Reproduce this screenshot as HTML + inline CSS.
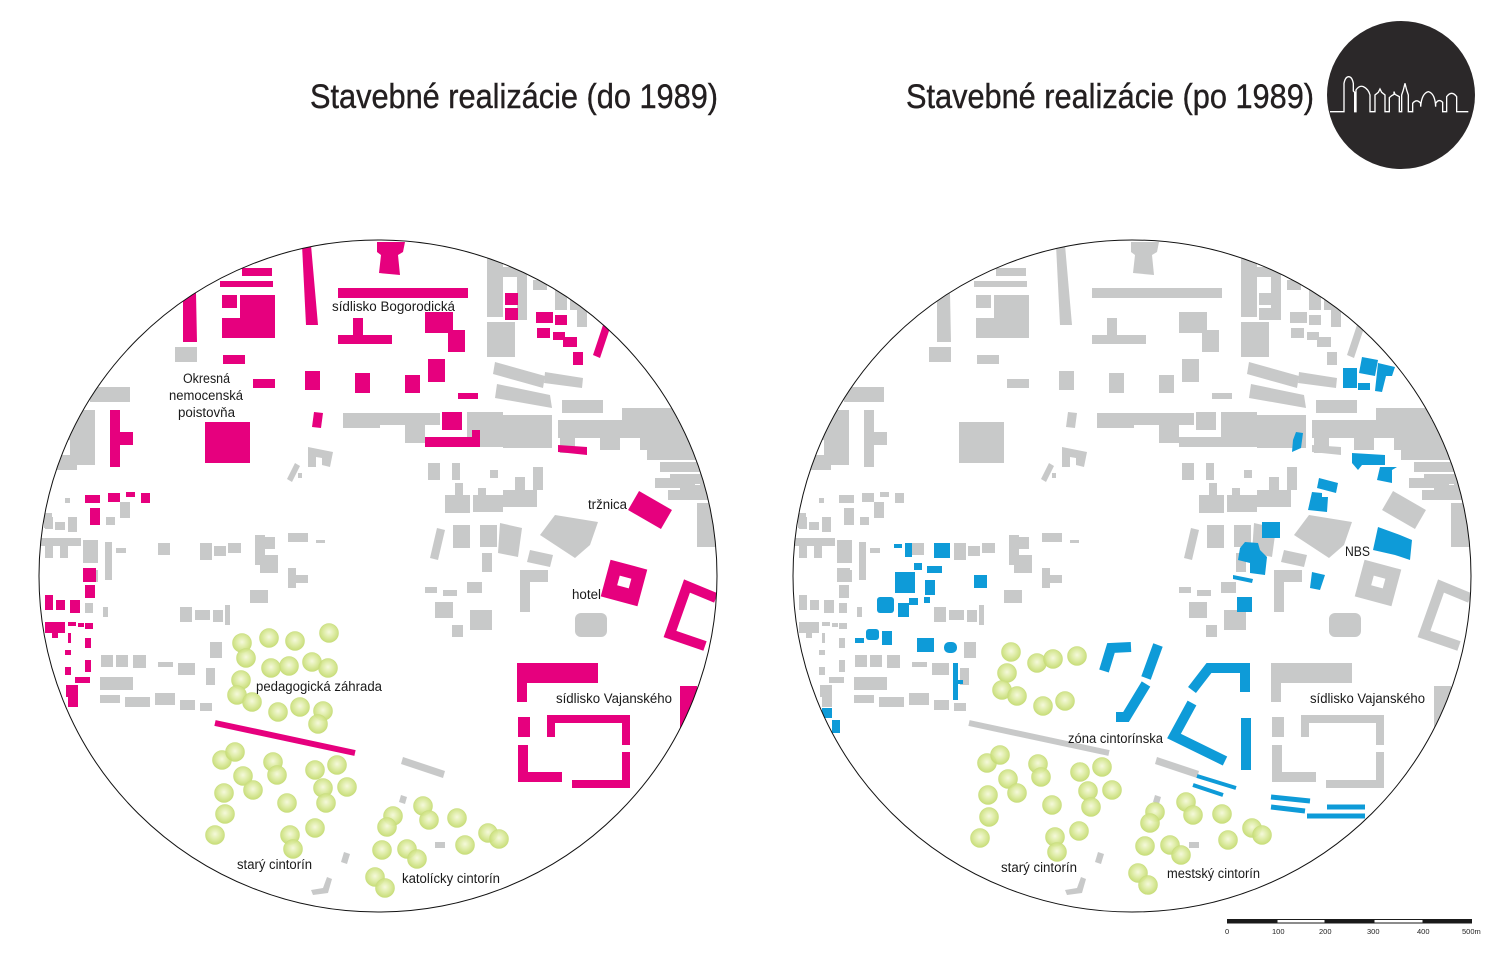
<!DOCTYPE html>
<html>
<head>
<meta charset="utf-8">
<style>
html,body{margin:0;padding:0;background:#fff;}
svg{display:block;}
.lbl{font-family:"Liberation Sans",sans-serif;font-size:13.5px;fill:#1a1a1a;}
.ttl{font-family:"Liberation Sans",sans-serif;font-size:34px;fill:#231f20;stroke:#231f20;stroke-width:0.4;}
.sc{font-family:"Liberation Sans",sans-serif;font-size:7.5px;fill:#222;}
</style>
</head>
<body>
<svg width="1497" height="955" viewBox="0 0 1497 955" xmlns="http://www.w3.org/2000/svg">
<defs>
<radialGradient id="tg" cx="50%" cy="45%" r="55%">
<stop offset="0" stop-color="#f4f8d8"/>
<stop offset="0.5" stop-color="#dcebA0"/>
<stop offset="1" stop-color="#c3da6c"/>
</radialGradient>
<clipPath id="cl"><ellipse cx="378" cy="576" rx="339" ry="336"/></clipPath>
<clipPath id="cr"><ellipse cx="1132" cy="576" rx="339" ry="336"/></clipPath>
<g id="gray">
<rect x="175" y="347" width="22" height="15"/>
<rect x="90" y="387" width="40" height="15"/>
<rect x="70" y="410" width="25" height="55"/>
<rect x="57" y="455" width="20" height="15"/>
<rect x="62" y="420" width="10" height="20"/>
<rect x="343" y="413" width="37" height="15"/>
<polygon points="308,447 333,452 330,467 322,465 322,458 316,457 316,467 308,467"/>
<polygon points="295,463 300,466 292,482 287,479"/>
<rect x="298" y="473" width="4" height="5"/>
<rect x="487" y="258" width="16" height="59"/>
<rect x="503" y="267" width="24" height="10"/>
<rect x="517" y="277" width="10" height="43"/>
<rect x="533" y="280" width="14" height="10"/>
<rect x="555" y="290" width="12" height="20"/>
<rect x="570" y="300" width="17" height="10"/>
<rect x="577" y="310" width="10" height="17"/>
<rect x="487" y="322" width="28" height="35"/>
<polygon points="495,362 545,376 543,388 493,374"/>
<polygon points="545,372 583,378 582,388 544,383"/>
<polygon points="497,384 550,395 552,408 495,398"/>
<rect x="562" y="400" width="41" height="13"/>
<rect x="622" y="408" width="55" height="12"/>
<rect x="380" y="413" width="60" height="12"/>
<rect x="405" y="425" width="20" height="18"/>
<rect x="467" y="412" width="36" height="35"/>
<rect x="503" y="415" width="49" height="33"/>
<rect x="558" y="420" width="145" height="18"/>
<rect x="560" y="438" width="15" height="15"/>
<rect x="600" y="438" width="20" height="12"/>
<rect x="640" y="438" width="62" height="12"/>
<rect x="647" y="450" width="60" height="10"/>
<rect x="660" y="462" width="50" height="10"/>
<rect x="670" y="474" width="45" height="10"/>
<rect x="680" y="485" width="38" height="8"/>
<rect x="700" y="440" width="18" height="60"/>
<rect x="428" y="463" width="12" height="17"/>
<rect x="452" y="463" width="8" height="17"/>
<rect x="533" y="467" width="10" height="23"/>
<rect x="445" y="495" width="25" height="18"/>
<rect x="455" y="483" width="8" height="12"/>
<rect x="473" y="495" width="30" height="17"/>
<rect x="478" y="488" width="8" height="8"/>
<rect x="503" y="490" width="34" height="17"/>
<rect x="515" y="477" width="10" height="13"/>
<rect x="490" y="470" width="8" height="8"/>
<polygon points="540,535 555,515 598,522 590,545 575,558"/>
<polygon points="437,528 445,530 438,560 430,558"/>
<rect x="453" y="525" width="17" height="23"/>
<rect x="480" y="525" width="17" height="22"/>
<polygon points="500,523 522,528 518,557 498,553"/>
<polygon points="530,550 553,555 550,567 527,562"/>
<rect x="482" y="553" width="10" height="19"/>
<rect x="520" y="570" width="28" height="12"/>
<rect x="520" y="580" width="10" height="32"/>
<rect x="467" y="582" width="15" height="11"/>
<rect x="425" y="587" width="12" height="6"/>
<rect x="443" y="590" width="14" height="6"/>
<rect x="435" y="602" width="18" height="16"/>
<rect x="470" y="610" width="22" height="20"/>
<rect x="452" y="625" width="11" height="12"/>
<rect x="575" y="613" width="32" height="24" rx="6"/>
<rect x="655" y="478" width="40" height="10"/>
<rect x="668" y="490" width="35" height="10"/>
<rect x="697" y="503" width="21" height="44"/>
<rect x="65" y="498" width="5" height="5"/>
<rect x="120" y="502" width="10" height="16"/>
<rect x="106" y="517" width="9" height="8"/>
<rect x="45" y="517" width="8" height="12"/>
<rect x="55" y="522" width="10" height="8"/>
<rect x="68" y="517" width="9" height="15"/>
<rect x="41" y="538" width="40" height="8"/>
<rect x="45" y="546" width="8" height="12"/>
<rect x="60" y="546" width="8" height="12"/>
<rect x="83" y="540" width="15" height="23"/>
<rect x="105" y="542" width="7" height="38"/>
<rect x="116" y="548" width="10" height="5"/>
<rect x="158" y="543" width="12" height="12"/>
<rect x="200" y="543" width="12" height="17"/>
<rect x="214" y="546" width="12" height="10"/>
<rect x="228" y="543" width="13" height="10"/>
<rect x="255" y="535" width="10" height="30"/>
<rect x="260" y="555" width="18" height="18"/>
<rect x="265" y="537" width="10" height="12"/>
<rect x="288" y="533" width="20" height="9"/>
<rect x="316" y="540" width="9" height="3"/>
<rect x="288" y="568" width="8" height="20"/>
<rect x="296" y="575" width="12" height="8"/>
<rect x="250" y="590" width="18" height="13"/>
<rect x="180" y="607" width="12" height="15"/>
<rect x="195" y="610" width="15" height="10"/>
<rect x="213" y="610" width="10" height="12"/>
<rect x="225" y="605" width="5" height="20"/>
<rect x="85" y="603" width="8" height="10"/>
<rect x="103" y="607" width="5" height="10"/>
<rect x="210" y="642" width="12" height="16"/>
<rect x="101" y="655" width="12" height="12"/>
<rect x="116" y="655" width="12" height="12"/>
<rect x="133" y="655" width="13" height="13"/>
<rect x="158" y="662" width="15" height="5"/>
<rect x="178" y="663" width="17" height="12"/>
<rect x="206" y="668" width="9" height="17"/>
<rect x="100" y="677" width="33" height="13"/>
<rect x="100" y="695" width="20" height="8"/>
<rect x="125" y="697" width="25" height="10"/>
<rect x="155" y="693" width="20" height="12"/>
<rect x="180" y="700" width="15" height="10"/>
<rect x="200" y="703" width="12" height="8"/>
<rect x="44" y="513" width="8" height="15"/>
<rect x="90" y="570" width="8" height="12"/>
<polygon points="403,757 445,771 443,778 401,764"/>
<polygon points="401,795 407,797 405,804 399,802"/>
<polygon points="344,852 350,854 347,864 341,862"/>
<polygon points="327,877 332,879 328,893 313,895 311,890 323,888"/>
<rect x="435" y="842" width="10" height="6"/>
</g>
<g id="pre">
<polygon points="183,293 196,293 197,342 183,342"/>
<rect x="242" y="268" width="30" height="8"/>
<rect x="220" y="281" width="53" height="6"/>
<rect x="240" y="295" width="35" height="25"/>
<rect x="222" y="318" width="53" height="20"/>
<rect x="222" y="295" width="15" height="13"/>
<polygon points="302,245 311,245 318,325 306,325"/>
<rect x="223" y="355" width="22" height="9"/>
<rect x="253" y="379" width="22" height="9"/>
<rect x="305" y="371" width="15" height="19"/>
<rect x="355" y="373" width="15" height="20"/>
<polygon points="314,412 323,413 321,428 312,427"/>
<rect x="205" y="422" width="45" height="41"/>
<rect x="110" y="410" width="10" height="57"/>
<rect x="110" y="432" width="23" height="13"/>
<rect x="338" y="288" width="130" height="10"/>
<rect x="353" y="318" width="10" height="20"/>
<rect x="338" y="335" width="54" height="9"/>
<polygon points="377,242 405,242 403,252 398,255 400,275 379,273 381,255 377,252"/>
<rect x="425" y="312" width="28" height="21"/>
<rect x="448" y="330" width="17" height="22"/>
<rect x="428" y="359" width="17" height="23"/>
<rect x="405" y="375" width="15" height="18"/>
<rect x="458" y="393" width="20" height="6"/>
<rect x="442" y="412" width="20" height="18"/>
<rect x="425" y="437" width="55" height="10"/>
<rect x="472" y="430" width="8" height="17"/>
<rect x="505" y="293" width="13" height="12"/>
<rect x="505" y="308" width="13" height="12"/>
<rect x="536" y="312" width="17" height="11"/>
<rect x="555" y="315" width="12" height="10"/>
<rect x="537" y="328" width="13" height="10"/>
<rect x="553" y="332" width="12" height="8"/>
<rect x="563" y="337" width="14" height="10"/>
<rect x="573" y="352" width="10" height="13"/>
<polygon points="603,325 610,328 600,358 593,355"/>
<polygon points="558,445 587,447 587,455 558,452"/>
<rect x="631" y="499" width="38" height="22" transform="rotate(30 650 510)"/>
<path d="M605,564h38v38h-38z M618,577h12v10h-12z" fill-rule="evenodd" transform="rotate(15 624 583)"/>
<polyline points="716,598 687,586 670,634 705,646" fill="none" stroke="currentColor" stroke-width="10"/>
<rect x="517" y="663" width="81" height="20"/>
<rect x="517" y="663" width="10" height="39"/>
<rect x="518" y="717" width="12" height="20"/>
<rect x="518" y="745" width="10" height="37"/>
<rect x="518" y="772" width="44" height="10"/>
<rect x="547" y="715" width="83" height="8"/>
<rect x="547" y="715" width="8" height="22"/>
<rect x="622" y="715" width="8" height="30"/>
<rect x="622" y="752" width="8" height="36"/>
<rect x="572" y="780" width="58" height="8"/>
<rect x="680" y="686" width="17" height="42"/>
<line x1="215" y1="723" x2="355" y2="753" stroke="currentColor" stroke-width="6"/>
<rect x="85" y="495" width="15" height="8"/>
<rect x="108" y="493" width="12" height="9"/>
<rect x="126" y="492" width="9" height="5"/>
<rect x="141" y="493" width="9" height="10"/>
<rect x="90" y="508" width="10" height="17"/>
<rect x="83" y="568" width="13" height="14"/>
<rect x="85" y="585" width="10" height="13"/>
<rect x="45" y="595" width="8" height="15"/>
<rect x="56" y="600" width="9" height="10"/>
<rect x="70" y="600" width="10" height="13"/>
<rect x="45" y="622" width="20" height="11"/>
<rect x="52" y="633" width="6" height="5"/>
<rect x="68" y="622" width="8" height="4"/>
<rect x="78" y="623" width="6" height="4"/>
<rect x="85" y="623" width="8" height="6"/>
<rect x="68" y="633" width="3" height="10"/>
<rect x="85" y="638" width="6" height="10"/>
<rect x="65" y="650" width="6" height="5"/>
<rect x="85" y="660" width="6" height="12"/>
<rect x="65" y="667" width="6" height="8"/>
<rect x="75" y="677" width="15" height="6"/>
<rect x="66" y="685" width="12" height="12"/>
<rect x="68" y="697" width="10" height="10"/>
</g>
</defs>

<g clip-path="url(#cl)">
<use href="#gray" fill="#c8c9c9"/>
<use href="#pre" fill="#e6007e" color="#e6007e"/>
<g fill="url(#tg)" stroke="#c9de80" stroke-width="0.6" fill-opacity="0.92">
<circle cx="242" cy="643" r="9.5"/><circle cx="246" cy="658" r="9.5"/><circle cx="269" cy="638" r="9.5"/><circle cx="295" cy="641" r="9.5"/><circle cx="329" cy="633" r="9.5"/><circle cx="241" cy="680" r="9.5"/><circle cx="271" cy="668" r="9.5"/><circle cx="289" cy="666" r="9.5"/><circle cx="312" cy="662" r="9.5"/><circle cx="328" cy="668" r="9.5"/><circle cx="237" cy="695" r="9.5"/><circle cx="252" cy="702" r="9.5"/><circle cx="278" cy="712" r="9.5"/><circle cx="300" cy="707" r="9.5"/><circle cx="323" cy="711" r="9.5"/><circle cx="318" cy="724" r="9.5"/>
<circle cx="222" cy="760" r="9.5"/><circle cx="235" cy="752" r="9.5"/><circle cx="273" cy="762" r="9.5"/><circle cx="277" cy="775" r="9.5"/><circle cx="243" cy="776" r="9.5"/><circle cx="253" cy="790" r="9.5"/><circle cx="224" cy="793" r="9.5"/><circle cx="225" cy="814" r="9.5"/><circle cx="215" cy="835" r="9.5"/><circle cx="315" cy="770" r="9.5"/><circle cx="337" cy="765" r="9.5"/><circle cx="323" cy="788" r="9.5"/><circle cx="347" cy="787" r="9.5"/><circle cx="326" cy="803" r="9.5"/><circle cx="287" cy="803" r="9.5"/><circle cx="290" cy="835" r="9.5"/><circle cx="293" cy="849" r="9.5"/><circle cx="315" cy="828" r="9.5"/>
<circle cx="393" cy="816" r="9.5"/><circle cx="387" cy="827" r="9.5"/><circle cx="423" cy="806" r="9.5"/><circle cx="429" cy="820" r="9.5"/><circle cx="457" cy="818" r="9.5"/><circle cx="382" cy="850" r="9.5"/><circle cx="407" cy="849" r="9.5"/><circle cx="417" cy="859" r="9.5"/><circle cx="465" cy="845" r="9.5"/><circle cx="488" cy="833" r="9.5"/><circle cx="499" cy="839" r="9.5"/><circle cx="375" cy="877" r="9.5"/><circle cx="385" cy="888" r="9.5"/>
</g>
</g>
<ellipse cx="378" cy="576" rx="339" ry="336" fill="none" stroke="#111" stroke-width="1"/>

<g clip-path="url(#cr)">
<g transform="translate(754,0)">
<use href="#gray" fill="#c8c9c9"/>
<use href="#pre" fill="#c8c9c9" color="#c8c9c9"/>
</g>
<g fill="#0e9bd8">
<polygon points="1362,357 1378,360 1375,376 1359,373"/>
<rect x="1343" y="368" width="14" height="20"/>
<rect x="1358" y="383" width="12" height="7"/>
<polygon points="1378,363 1395,367 1392,376 1386,376 1382,392 1375,391"/>
<polygon points="1296,432 1303,433 1301,448 1292,452 1293,440"/>
<polygon points="1352,453 1385,455 1385,465 1362,465 1358,470 1352,463"/>
<polygon points="1380,467 1397,467 1392,470 1392,483 1377,480"/>
<polygon points="1319,478 1338,483 1336,493 1317,488"/>
<polygon points="1312,492 1322,493 1322,497 1328,497 1327,512 1308,510"/>
<rect x="1262" y="522" width="18" height="16"/>
<polygon points="1245,542 1258,543 1260,550 1267,557 1265,575 1250,573 1250,563 1238,560 1240,548"/>
<polygon points="1233,575 1253,579 1252,583 1233,579"/>
<rect x="1237" y="597" width="15" height="15"/>
<polygon points="1312,572 1325,575 1320,590 1310,588"/>
<polygon points="1378,527 1400,535 1412,540 1410,560 1395,555 1373,550"/>
<rect x="894" y="544" width="8" height="4"/>
<rect x="905" y="543" width="7" height="14"/>
<rect x="934" y="543" width="16" height="15"/>
<rect x="914" y="563" width="8" height="7"/>
<rect x="927" y="566" width="15" height="7"/>
<rect x="895" y="572" width="20" height="21"/>
<rect x="925" y="580" width="10" height="15"/>
<rect x="924" y="597" width="6" height="6"/>
<rect x="974" y="575" width="13" height="13"/>
<rect x="877" y="597" width="17" height="16" rx="3"/>
<rect x="898" y="603" width="11" height="14"/>
<rect x="909" y="598" width="9" height="7"/>
<rect x="855" y="638" width="9" height="5"/>
<rect x="866" y="629" width="13" height="11" rx="3"/>
<rect x="882" y="631" width="10" height="14"/>
<rect x="917" y="638" width="17" height="14"/>
<rect x="944" y="642" width="13" height="11" rx="5"/>
<rect x="953" y="663" width="5" height="37"/>
<rect x="958" y="680" width="5" height="4"/>
<rect x="822" y="708" width="10" height="10"/>
<rect x="832" y="720" width="8" height="13"/>
</g>
<g fill="none" stroke="#0e9bd8">
<polyline points="1131,647 1111,648 1104,671" stroke-width="10"/>
<line x1="1158" y1="645" x2="1146" y2="678" stroke-width="10"/>
<polyline points="1146,684 1126,717 1116,717" stroke-width="10"/>
<polyline points="1192,690 1209,668 1245,668 1245,692" stroke-width="10"/>
<polyline points="1192,703 1174,736 1225,761" stroke-width="10"/>
<line x1="1246" y1="718" x2="1246" y2="770" stroke-width="10"/>
<line x1="1197" y1="776" x2="1236" y2="788" stroke-width="4"/>
<line x1="1193" y1="785" x2="1223" y2="795" stroke-width="4"/>
<line x1="1271" y1="797" x2="1310" y2="801" stroke-width="5"/>
<line x1="1271" y1="807" x2="1305" y2="811" stroke-width="5"/>
<line x1="1327" y1="807" x2="1365" y2="807" stroke-width="5"/>
<line x1="1307" y1="816" x2="1365" y2="816" stroke-width="5"/>
</g>
<g fill="url(#tg)" stroke="#c9de80" stroke-width="0.6" fill-opacity="0.92">
<circle cx="1011" cy="652" r="9.5"/><circle cx="1037" cy="663" r="9.5"/><circle cx="1053" cy="659" r="9.5"/><circle cx="1077" cy="656" r="9.5"/><circle cx="1007" cy="673" r="9.5"/><circle cx="1002" cy="690" r="9.5"/><circle cx="1017" cy="696" r="9.5"/><circle cx="1043" cy="706" r="9.5"/><circle cx="1065" cy="701" r="9.5"/>
<circle cx="987" cy="763" r="9.5"/><circle cx="1000" cy="755" r="9.5"/><circle cx="1038" cy="764" r="9.5"/><circle cx="1041" cy="777" r="9.5"/><circle cx="1008" cy="779" r="9.5"/><circle cx="1017" cy="793" r="9.5"/><circle cx="988" cy="795" r="9.5"/><circle cx="989" cy="817" r="9.5"/><circle cx="980" cy="838" r="9.5"/><circle cx="1052" cy="805" r="9.5"/><circle cx="1080" cy="772" r="9.5"/><circle cx="1102" cy="767" r="9.5"/><circle cx="1088" cy="791" r="9.5"/><circle cx="1112" cy="790" r="9.5"/><circle cx="1091" cy="807" r="9.5"/><circle cx="1079" cy="831" r="9.5"/><circle cx="1055" cy="837" r="9.5"/><circle cx="1057" cy="852" r="9.5"/>
<circle cx="1155" cy="812" r="9.5"/><circle cx="1150" cy="823" r="9.5"/><circle cx="1186" cy="802" r="9.5"/><circle cx="1193" cy="815" r="9.5"/><circle cx="1222" cy="814" r="9.5"/><circle cx="1252" cy="828" r="9.5"/><circle cx="1262" cy="835" r="9.5"/><circle cx="1145" cy="846" r="9.5"/><circle cx="1170" cy="845" r="9.5"/><circle cx="1181" cy="855" r="9.5"/><circle cx="1228" cy="840" r="9.5"/><circle cx="1138" cy="873" r="9.5"/><circle cx="1148" cy="885" r="9.5"/>
</g>
</g>
<ellipse cx="1132" cy="576" rx="339" ry="336" fill="none" stroke="#111" stroke-width="1"/>

<text class="lbl" x="332" y="311" textLength="123" lengthAdjust="spacingAndGlyphs">sídlisko Bogorodická</text>
<text class="lbl" x="183" y="383" textLength="47" lengthAdjust="spacingAndGlyphs">Okresná</text>
<text class="lbl" x="169" y="400" textLength="74" lengthAdjust="spacingAndGlyphs">nemocenská</text>
<text class="lbl" x="178" y="417" textLength="57" lengthAdjust="spacingAndGlyphs">poistovňa</text>
<text class="lbl" x="588" y="509" textLength="39" lengthAdjust="spacingAndGlyphs">tržnica</text>
<text class="lbl" x="572" y="599" textLength="29" lengthAdjust="spacingAndGlyphs">hotel</text>
<text class="lbl" x="256" y="691" textLength="126" lengthAdjust="spacingAndGlyphs">pedagogická záhrada</text>
<text class="lbl" x="556" y="703" textLength="116" lengthAdjust="spacingAndGlyphs">sídlisko Vajanského</text>
<text class="lbl" x="237" y="869" textLength="75" lengthAdjust="spacingAndGlyphs">starý cintorín</text>
<text class="lbl" x="402" y="883" textLength="98" lengthAdjust="spacingAndGlyphs">katolícky cintorín</text>
<text class="lbl" x="1345" y="556" textLength="25" lengthAdjust="spacingAndGlyphs">NBS</text>
<text class="lbl" x="1310" y="703" textLength="115" lengthAdjust="spacingAndGlyphs">sídlisko Vajanského</text>
<text class="lbl" x="1068" y="743" textLength="95" lengthAdjust="spacingAndGlyphs">zóna cintorínska</text>
<text class="lbl" x="1001" y="872" textLength="76" lengthAdjust="spacingAndGlyphs">starý cintorín</text>
<text class="lbl" x="1167" y="878" textLength="93" lengthAdjust="spacingAndGlyphs">mestský cintorín</text>

<text class="ttl" x="310" y="108" textLength="408" lengthAdjust="spacingAndGlyphs">Stavebné realizácie (do 1989)</text>
<text class="ttl" x="906" y="108" textLength="408" lengthAdjust="spacingAndGlyphs">Stavebné realizácie (po 1989)</text>

<circle cx="1401" cy="95" r="74" fill="#2b2829"/>
<path transform="translate(1320,15) scale(0.3333)" fill="none" stroke="#fff" stroke-width="4" d="M30,290 H72 V205 Q76,185 86,185 Q96,185 100,205 V228 L104,232 V290 H108 V225 Q118,210 130,215 Q145,222 150,240 V290 H165 V240 L175,232 L180,222 L185,232 L195,240 V290 H208 V248 L215,242 L222,238 V230 L225,238 L238,245 V290 H245 V240 L250,225 L255,205 L260,225 L265,240 V290 H278 V265 Q290,250 302,265 V275 Q305,235 325,230 Q345,235 347,275 V265 Q357,250 368,262 V290 H380 V245 Q395,225 410,245 V290 H445"/>

<rect x="1227" y="919" width="245" height="4.5" fill="#1a1a1a"/>
<rect x="1277.5" y="920" width="47" height="2.5" fill="#fff"/>
<rect x="1374.5" y="920" width="48" height="2.5" fill="#fff"/>
<text class="sc" x="1225" y="934">0</text>
<text class="sc" x="1272" y="934">100</text>
<text class="sc" x="1319" y="934">200</text>
<text class="sc" x="1367" y="934">300</text>
<text class="sc" x="1417" y="934">400</text>
<text class="sc" x="1462" y="934">500m</text>
</svg>
</body>
</html>
